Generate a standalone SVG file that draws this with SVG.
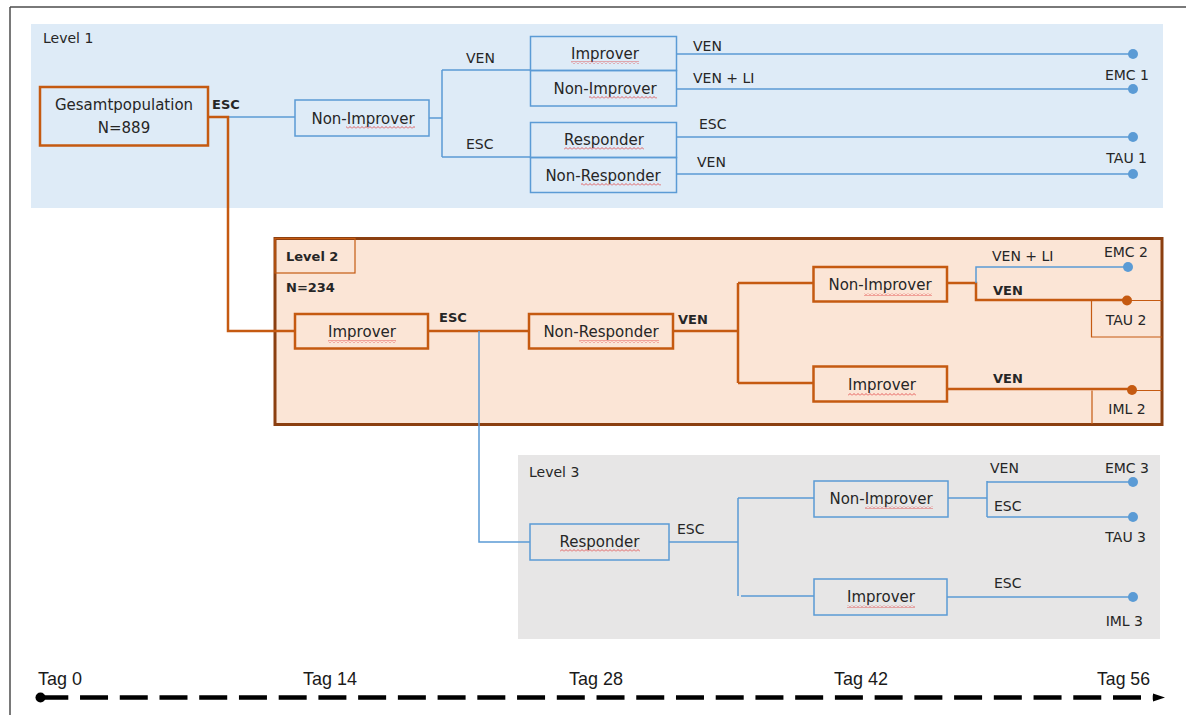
<svg xmlns="http://www.w3.org/2000/svg" width="1186" height="715" viewBox="0 0 1186 715">
<style>
.t{font-family:"DejaVu Sans","Liberation Sans",sans-serif;font-size:15px;fill:#262626}
.s{font-size:14px}
.b{font-weight:bold;font-size:13px}
.c{text-anchor:middle}
.r{text-anchor:end}
.bx{fill:none;stroke:#5b9bd5;stroke-width:1.5}
.ox{fill:none;stroke:#c55a11;stroke-width:2.5}
.thin{fill:none;stroke:#c55a11;stroke-width:1.2}
.bl{fill:none;stroke:#5b9bd5;stroke-width:1.5}
.ol{fill:none;stroke:#c55a11;stroke-width:2.5}
.bd{fill:#5b9bd5}
.od{fill:#c55a11}
.wv{fill:url(#wavy)}
.tag{font-family:"Liberation Sans",sans-serif;font-size:19px;fill:#1a1a1a}
</style>
<defs>
<pattern id="wavy" width="4" height="3" patternUnits="userSpaceOnUse">
<path d="M0 2.5 L2 0.5 L4 2.5" fill="none" stroke="#e03c3c" stroke-width="0.8"/>
</pattern>
<marker id="arr" viewBox="0 0 10 10" refX="10" refY="5" markerWidth="3" markerHeight="2.4" orient="auto" markerUnits="strokeWidth">
<path d="M0 0 L10 5 L0 10 Z" fill="#000"/>
</marker>
</defs>

<g id="frame">
<path d="M10 7 H1186 M10 7 V715" fill="none" stroke="#4d4d4d" stroke-width="1.5"/>
</g>

<g id="level1">
<rect x="31" y="24" width="1132" height="184" fill="#deebf7"/>
<text class="t s" x="43" y="43">Level 1</text>
</g>
<g id="level3">
<rect x="518" y="455" width="642" height="184" fill="#e7e6e6"/>
<text class="t s" x="529" y="477">Level 3</text>
</g>
<g id="level2">
<rect x="275" y="238.5" width="887" height="186" fill="#fbe5d6" stroke="#8b3f10" stroke-width="3"/>
<rect x="275" y="238.5" width="80" height="34.5" class="thin"/>
<text class="t b" x="286" y="261">Level 2</text>
<text class="t b" x="286" y="292">N=234</text>
</g>

<g id="connectors">
<!-- Level 1 -->
<path class="bl" d="M228 117 H295"/>
<path class="ol" d="M208 117 H228 V331 H295"/>
<path class="bl" d="M429 118 H442 M442 70 V157 M442 70 H530 M442 157 H530"/>
<path class="bl" d="M677 54 H1132 M677 89 H1132 M677 137 H1132 M677 174 H1132"/>
<!-- Level 2 -->
<path class="ol" d="M428 331 H529"/>
<path class="bl" d="M479 331 V542 H530"/>
<path class="ol" d="M673 331 H738 M738 283 V383 M738 283 H813 M738 383 H813"/>
<path class="ol" d="M947 283 H976 V300 H1127"/>
<path class="bl" d="M976 283 V267 H1128"/>
<path class="ol" d="M947 389 H1132"/>
<!-- Level 3 -->
<path class="bl" d="M669 542 H738 M738 498 V596 M738 498 H814 M741 596 H814"/>
<path class="bl" d="M948 498 H987 M987 481 V517 M987 482 H1133 M987 517 H1133"/>
<path class="bl" d="M947 597 H1133"/>
<!-- timeline -->
<line x1="40.3" y1="697.5" x2="1153" y2="697.5" stroke="#000" stroke-width="4.5" stroke-dasharray="28 11.73"/>
<path d="M1153 693.5 L1165 697.5 L1153 701.5 Z" fill="#000"/>
<circle cx="40.5" cy="697.5" r="5" fill="#000"/>
</g>

<g id="gesamt">
<rect x="40" y="87" width="168" height="58.5" class="ox"/>
<text class="t c" x="124" y="110">Gesamtpopulation</text>
<text class="t c" x="124" y="133">N=889</text>
<text class="t b" x="212" y="109">ESC</text>
</g>

<g id="l1-nonimprover">
<rect x="295" y="100" width="134" height="36" class="bx"/>
<text class="t c" x="363" y="124">Non-Improver</text>
<rect class="wv" x="346" y="126" width="69" height="3"/>
</g>
<g id="l1-labels">
<text class="t s" x="466" y="63">VEN</text>
<text class="t s" x="466" y="149">ESC</text>
</g>
<g id="l1-improver">
<rect x="530.5" y="36.5" width="146" height="34" class="bx"/>
<text class="t c" x="605" y="59">Improver</text>
<rect class="wv" x="571" y="61" width="68" height="3"/>
<text class="t s" x="693" y="51">VEN</text>
</g>
<g id="l1-nonimprover2">
<rect x="530.5" y="70.5" width="146" height="35.5" class="bx"/>
<text class="t c" x="605" y="94">Non-Improver</text>
<rect class="wv" x="589" y="96" width="68" height="3"/>
<text class="t s" x="693" y="83">VEN + LI</text>
</g>
<g id="l1-responder">
<rect x="530.5" y="122.5" width="146" height="35" class="bx"/>
<text class="t c" x="604" y="145">Responder</text>
<rect class="wv" x="564" y="147" width="80" height="3"/>
<text class="t s" x="699" y="129">ESC</text>
</g>
<g id="l1-nonresponder">
<rect x="530.5" y="157.5" width="146" height="35" class="bx"/>
<text class="t c" x="603" y="181">Non-Responder</text>
<rect class="wv" x="581" y="183" width="80" height="3"/>
<text class="t s" x="697" y="167">VEN</text>
</g>
<g id="emc1">
<circle cx="1133" cy="54" r="5" class="bd"/>
<circle cx="1133" cy="89" r="5" class="bd"/>
<text class="t s r" x="1149" y="80">EMC 1</text>
</g>
<g id="tau1">
<circle cx="1133" cy="137" r="5" class="bd"/>
<circle cx="1133" cy="174" r="5" class="bd"/>
<text class="t s r" x="1147" y="163">TAU 1</text>
</g>

<g id="l2-improver">
<rect x="295" y="314" width="133" height="34.5" class="ox"/>
<text class="t c" x="362" y="337">Improver</text>
<rect class="wv" x="328" y="340" width="68" height="3"/>
<text class="t b" x="439" y="322">ESC</text>
</g>
<g id="l2-nonresponder">
<rect x="529" y="314" width="144" height="34.5" class="ox"/>
<text class="t c" x="601" y="337">Non-Responder</text>
<rect class="wv" x="579" y="340" width="80" height="3"/>
<text class="t b" x="678" y="324">VEN</text>
</g>
<g id="l2-nonimprover">
<rect x="813.5" y="267" width="133.5" height="34.5" class="ox"/>
<text class="t c" x="880" y="290">Non-Improver</text>
<rect class="wv" x="864" y="293" width="68" height="3"/>
<text class="t s" x="992" y="261">VEN + LI</text>
<text class="t b" x="993" y="295">VEN</text>
</g>
<g id="emc2">
<circle cx="1128" cy="267" r="5" class="bd"/>
<text class="t s r" x="1148" y="257">EMC 2</text>
</g>
<g id="tau2">
<path class="thin" d="M1127 300.5 H1162 M1091.5 300.5 V337 H1162"/>
<circle cx="1127" cy="300.5" r="5" class="od"/>
<text class="t s c" x="1126" y="325">TAU 2</text>
</g>
<g id="l2-improver2">
<rect x="813.5" y="366.5" width="133.5" height="35" class="ox"/>
<text class="t c" x="882" y="390">Improver</text>
<rect class="wv" x="848" y="393" width="68" height="3"/>
<text class="t b" x="993" y="383">VEN</text>
</g>
<g id="iml2">
<path class="thin" d="M1132 390.5 H1162 M1092 390.5 V424"/>
<circle cx="1132" cy="390" r="5" class="od"/>
<text class="t s c" x="1127" y="414">IML 2</text>
</g>

<g id="l3-responder">
<rect x="530" y="524" width="139" height="36" class="bx"/>
<text class="t c" x="599.5" y="547">Responder</text>
<rect class="wv" x="560" y="549" width="80" height="3"/>
<text class="t s" x="677" y="534">ESC</text>
</g>
<g id="l3-nonimprover">
<rect x="814" y="481" width="134" height="36" class="bx"/>
<text class="t c" x="881" y="504">Non-Improver</text>
<rect class="wv" x="865" y="506" width="68" height="3"/>
<text class="t s" x="990" y="473">VEN</text>
<text class="t s" x="994" y="511">ESC</text>
</g>
<g id="emc3">
<circle cx="1133" cy="482" r="5" class="bd"/>
<text class="t s r" x="1149" y="473">EMC 3</text>
</g>
<g id="tau3">
<circle cx="1133" cy="517" r="5" class="bd"/>
<text class="t s r" x="1146" y="542">TAU 3</text>
</g>
<g id="l3-improver">
<rect x="814" y="579" width="133" height="36" class="bx"/>
<text class="t c" x="881" y="602">Improver</text>
<rect class="wv" x="847" y="605" width="68" height="3"/>
<text class="t s" x="994" y="588">ESC</text>
</g>
<g id="iml3">
<circle cx="1133" cy="597" r="5" class="bd"/>
<text class="t s r" x="1143" y="626">IML 3</text>
</g>

<g id="timeline-labels">
<text class="tag" x="38" y="685" textLength="44" lengthAdjust="spacingAndGlyphs">Tag 0</text>
<text class="tag" x="303" y="685" textLength="54" lengthAdjust="spacingAndGlyphs">Tag 14</text>
<text class="tag" x="569" y="685" textLength="54" lengthAdjust="spacingAndGlyphs">Tag 28</text>
<text class="tag" x="834" y="685" textLength="54" lengthAdjust="spacingAndGlyphs">Tag 42</text>
<text class="tag" x="1097" y="685" textLength="53" lengthAdjust="spacingAndGlyphs">Tag 56</text>
</g>
</svg>
